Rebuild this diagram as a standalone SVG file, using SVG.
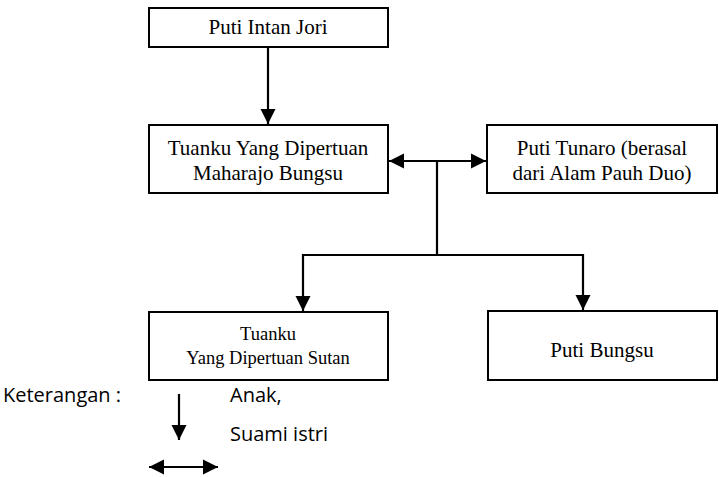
<svg xmlns="http://www.w3.org/2000/svg" width="719" height="477" viewBox="0 0 719 477">
<style>
.box{fill:#fff;stroke:#000;stroke-width:2}
.t{font-family:"Liberation Serif","Times New Roman",serif;font-size:21px;fill:#000;text-anchor:middle}
.t2{font-family:"Liberation Serif","Times New Roman",serif;font-size:18.5px;fill:#000;text-anchor:middle}
.l{font-family:"Open Sans","Noto Sans",sans-serif;font-size:20px;fill:#000}
.c{fill:none;stroke:#000;stroke-width:2.2}
</style>
<defs>
<marker id="ah" viewBox="0 0 10 10" refX="10" refY="5" markerWidth="7" markerHeight="7" markerUnits="strokeWidth" orient="auto-start-reverse">
<path d="M0,0 L10,5 L0,10 Z" fill="#000"/>
</marker>
</defs>
<g id="n1"><rect class="box" x="149" y="8" width="239" height="39"/><text class="t" x="268" y="34">Puti Intan Jori</text></g>
<g id="n2"><rect class="box" x="149" y="125" width="239" height="68"/><text class="t" x="268" y="155">Tuanku Yang Dipertuan</text><text class="t" x="268" y="180">Maharajo Bungsu</text></g>
<g id="n3"><rect class="box" x="487" y="125" width="230" height="68"/><text class="t" x="602" y="155">Puti Tunaro (berasal</text><text class="t" x="602" y="180">dari Alam Pauh Duo)</text></g>
<g id="n4"><rect class="box" x="149" y="312" width="239" height="68"/><text class="t2" x="268" y="340">Tuanku</text><text class="t2" x="268" y="364">Yang Dipertuan Sutan</text></g>
<g id="n5"><rect class="box" x="488" y="311" width="229" height="69"/><text class="t" x="602" y="357">Puti Bungsu</text></g>
<g id="connectors">
<line class="c" x1="268" y1="48" x2="268" y2="124" marker-end="url(#ah)"/>
<line class="c" x1="389" y1="161" x2="486" y2="161" marker-start="url(#ah)" marker-end="url(#ah)"/>
<polyline class="c" points="437,161 437,255"/>
<polyline class="c" points="303,311 303,255 583,255 583,310" marker-start="url(#ah)" marker-end="url(#ah)"/>
</g>
<g id="legend">
<text class="l" x="3" y="402">Keterangan :</text>
<text class="l" x="230" y="402">Anak,</text>
<text class="l" x="230" y="441">Suami istri</text>
<line class="c" x1="179" y1="394" x2="179" y2="440" marker-end="url(#ah)"/>
<line class="c" x1="149" y1="467" x2="218" y2="467" marker-start="url(#ah)" marker-end="url(#ah)"/>
</g>
</svg>
